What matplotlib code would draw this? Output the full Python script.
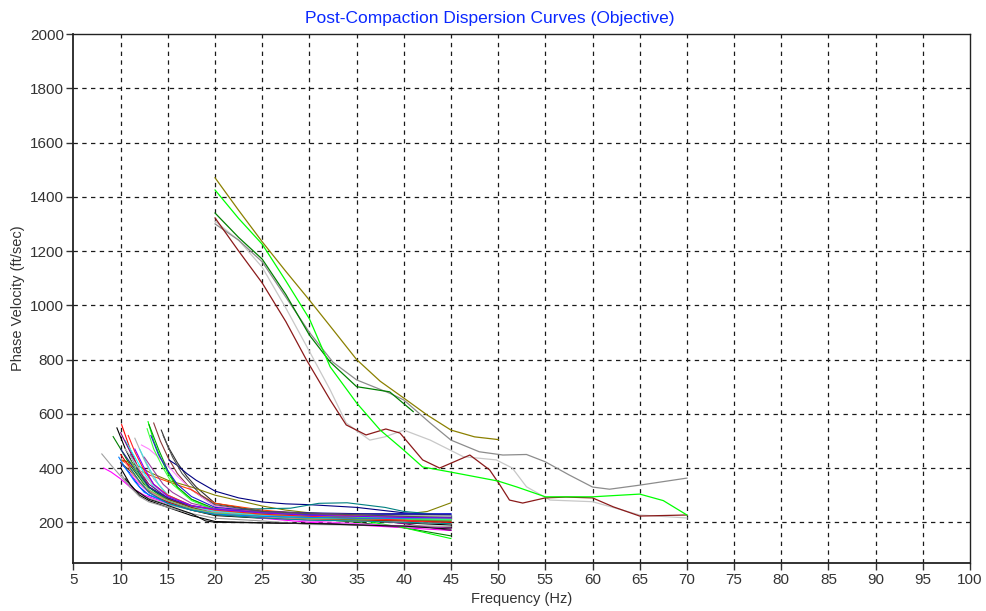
import matplotlib
matplotlib.use("Agg")
import matplotlib.pyplot as plt

# ---------------- data ----------------
title_text = "Post-Compaction Dispersion Curves (Objective)"
x_label = "Frequency (Hz)"
y_label = "Phase Velocity (ft/sec)"
x_ticks = list(range(5, 101, 5))
y_ticks = list(range(200, 2001, 200))

# high-velocity curves (start at 20 Hz)
hi_olive_f = [20, 22.5, 25, 27.5, 30, 32.5, 35, 37.5, 40, 42.5, 45, 47.5, 50]
hi_olive_v = [1470, 1350, 1234, 1125, 1019, 910, 800, 720, 658, 595, 540, 515, 505]
hi_lime_f = [20, 22.5, 25, 27.5, 30, 32.2, 35, 37.5, 40, 42, 45, 50, 52, 55, 60, 65, 67.5, 70]
hi_lime_v = [1425, 1320, 1225, 1090, 950, 773, 640, 540, 466, 404, 385, 352, 330, 294, 294, 304, 280, 227]
hi_green_f = [20, 22.5, 25, 27.5, 30, 32.2, 35, 38.5, 41]
hi_green_v = [1340, 1250, 1170, 1040, 890, 791, 700, 681, 608]
hi_gray_f = [20, 22.5, 25, 27.5, 30, 32.5, 35, 38.5, 40, 42.8, 45, 48, 50.5, 53, 55, 57.5, 60, 61.8, 65, 70]
hi_gray_v = [1300, 1240, 1160, 1030, 900, 790, 725, 676, 651, 566, 503, 460, 448, 450, 423, 375, 330, 322, 337, 363]
hi_silver_f = [20, 22.5, 25, 27.5, 30, 32.2, 33.9, 36.4, 38, 40, 42.8, 46.3, 49.8, 51.5, 53, 55.5, 60, 65, 70]
hi_silver_v = [1310, 1240, 1140, 990, 830, 688, 566, 503, 515, 540, 503, 442, 430, 400, 331, 282, 276, 227, 216]
hi_maroon_f = [20, 22.5, 25, 27.5, 29.7, 32.2, 33.9, 36, 38.1, 39.6, 42, 43.8, 47, 49.1, 50.2, 51.2, 52.6, 55, 57.2, 60, 62.2, 65, 70]
hi_maroon_v = [1322, 1200, 1082, 940, 798, 651, 559, 522, 544, 529, 430, 400, 448, 393, 337, 282, 271, 290, 293, 290, 257, 223, 227]

hi_curves = [
    (hi_silver_f, hi_silver_v, "#C8C8C8"),
    (hi_gray_f, hi_gray_v, "#8C8C8C"),
    (hi_green_f, hi_green_v, "#008000"),
    (hi_maroon_f, hi_maroon_v, "#8B1A1A"),
    (hi_lime_f, hi_lime_v, "#00FF00"),
    (hi_olive_f, hi_olive_v, "#8B8000"),
]

# low-frequency cluster (each: freqs, velocities, colour)
lo_01 = ([10.1, 11, 12, 13, 15, 17.5, 20, 25, 30, 35, 40, 45], [560, 470, 390, 330, 280, 250, 230, 220, 215, 212, 205, 200], "#FF0000")
lo_02 = ([9.6, 10.5, 11.5, 13, 15, 17.5, 20, 25, 30, 35, 40, 45], [548, 470, 400, 330, 285, 245, 225, 215, 210, 205, 198, 190], "#000000")
lo_03 = ([9.2, 10, 11, 12.5, 15, 17.5, 20, 25, 30, 35, 40, 45], [516, 470, 410, 340, 280, 250, 235, 225, 215, 200, 180, 150], "#008000")
lo_04 = ([8, 9, 10, 11, 12.5, 15, 17.5, 20, 25, 30, 35, 40, 45], [452, 410, 370, 330, 295, 265, 245, 230, 220, 215, 210, 205, 205], "#A0A0A0")
lo_05 = ([8.2, 9, 10, 11, 12.5, 15, 17.5, 20, 25, 30, 35, 40, 45], [400, 385, 360, 330, 300, 270, 250, 235, 215, 200, 190, 180, 170], "#FF00FF")
lo_06 = ([12.9, 13.5, 14.2, 15, 16, 17.5, 20, 25, 30, 35, 40, 45], [571, 500, 440, 380, 330, 285, 245, 230, 220, 210, 180, 140], "#00FF00")
lo_07 = ([13.5, 14.2, 15, 16, 17.5, 20, 25, 30, 35, 40, 45], [566, 500, 440, 380, 320, 260, 235, 228, 222, 218, 215], "#8B3A3A")
lo_08 = ([14.3, 15, 16, 17, 18, 20, 25, 30, 35, 40, 45], [540, 480, 420, 370, 330, 270, 240, 230, 225, 220, 215], "#303030")
lo_09 = ([12.2, 13, 14, 15, 16, 17.5, 20, 25, 30, 35, 40, 45], [485, 470, 440, 410, 370, 320, 260, 235, 225, 220, 215, 210], "#FF80FF")
lo_10 = ([15.1, 16, 17, 18, 20, 22.5, 25, 27.5, 30, 35, 40, 45], [430, 410, 380, 355, 315, 290, 275, 268, 265, 255, 235, 225], "#000080")
lo_11 = ([10.1, 11, 12, 13, 15, 17.5, 20, 22.5, 25, 27.5, 30, 35, 40, 42.5, 45], [430, 420, 405, 385, 355, 330, 300, 280, 260, 245, 235, 225, 230, 240, 272], "#808000")
lo_12 = ([10, 11, 12, 13, 15, 17.5, 20, 25, 30, 35, 40, 45], [430, 410, 390, 375, 350, 320, 270, 245, 230, 222, 215, 210], "#FF4000")
lo_13 = ([10, 11, 12, 13, 15, 17.5, 20, 25, 30, 35, 40, 45], [420, 380, 330, 300, 275, 250, 240, 232, 228, 230, 232, 230], "#0000FF")
lo_14 = ([10.5, 11.5, 12.5, 13.5, 15, 17.5, 20, 25, 30, 35, 40, 45], [500, 440, 380, 330, 285, 255, 240, 225, 218, 215, 212, 210], "#00FFFF")
lo_15 = ([11, 12, 13, 15, 17.5, 20, 25, 28, 31, 34, 38, 40, 45], [450, 380, 330, 285, 255, 245, 250, 252, 270, 272, 255, 240, 225], "#008080")
lo_16 = ([10, 11, 12, 13, 15, 17.5, 20, 25, 30, 35, 40, 45], [530, 460, 390, 340, 290, 255, 240, 228, 222, 215, 195, 170], "#800080")
lo_17 = ([10.5, 11.5, 12.5, 14, 15, 17.5, 20, 25, 30, 35, 40, 45], [470, 420, 370, 320, 295, 260, 240, 230, 225, 220, 220, 222], "#C0C0C0")
lo_18 = ([11.5, 12.5, 13.5, 15, 17.5, 20, 25, 30, 35, 40, 45], [510, 430, 360, 300, 260, 245, 238, 232, 228, 225, 225], "#B0B0B0")
lo_19 = ([13, 14, 15, 16, 17.5, 20, 25, 30, 35, 40, 45], [560, 470, 390, 330, 285, 250, 235, 225, 218, 210, 205], "#00A000")
lo_20 = ([13.2, 14, 15, 16, 17.5, 20, 25, 30, 35, 40, 45], [520, 450, 390, 340, 295, 255, 240, 232, 230, 230, 232], "#2020D0")
lo_22 = ([10, 11, 12, 13, 15, 17.5, 20, 25, 30, 35, 40, 45], [450, 400, 350, 310, 275, 245, 228, 218, 210, 208, 205, 200], "#E00000")
lo_23 = ([10, 11, 12, 13, 15, 17.5, 20, 25, 30, 35, 40, 45], [400, 340, 300, 280, 255, 225, 203, 198, 195, 192, 185, 180], "#000000")
lo_24 = ([10, 11, 12, 13, 15, 17.5, 20, 25, 30, 35, 40, 45], [380, 330, 295, 275, 255, 232, 215, 205, 192, 190, 188, 185], "#999999")
lo_25 = ([11, 12, 13, 15, 17.5, 20, 25, 30, 35, 40, 45], [380, 340, 310, 280, 255, 238, 222, 205, 195, 185, 178], "#FF40FF")
lo_26 = ([10, 11, 12, 13, 15, 17.5, 20, 25, 30, 35, 40, 45], [420, 390, 350, 315, 285, 255, 232, 222, 215, 210, 208, 205], "#804000")
lo_27 = ([12, 13, 14, 15, 17.5, 20, 25, 30, 35, 40, 45], [470, 400, 340, 300, 260, 240, 225, 218, 215, 215, 215], "#40E0E0")
lo_28 = ([10, 11, 12, 13, 15, 17.5, 20, 25, 30, 35, 40, 45], [470, 420, 370, 330, 290, 260, 248, 240, 235, 232, 230, 228], "#202090")
lo_29 = ([10.5, 11.5, 12.5, 14, 15, 17.5, 20, 25, 30, 35, 40, 45], [420, 370, 330, 295, 280, 250, 232, 220, 210, 205, 200, 195], "#FF8080")
lo_30 = ([11, 12, 13, 15, 17.5, 20, 25, 30, 35, 40, 45], [430, 370, 320, 280, 250, 235, 222, 215, 212, 210, 208], "#60D060")
lo_31 = ([12.5, 13.5, 14.5, 15.5, 17.5, 20, 25, 30, 35, 40, 45], [440, 390, 340, 310, 270, 250, 240, 232, 228, 220, 215], "#A040A0")
lo_32 = ([12.8, 13.5, 14.5, 15.5, 17.5, 20, 25, 30, 35, 40, 45], [545, 470, 400, 340, 280, 245, 230, 222, 218, 215, 212], "#40FF40")
lo_33 = ([10.8, 11.5, 12.5, 13.5, 15, 17.5, 20, 25, 30, 35, 40, 45], [520, 460, 390, 340, 300, 262, 245, 230, 222, 215, 208, 195], "#FF2020")
lo_34 = ([9.8, 10.5, 11.5, 12.5, 15, 17.5, 20, 25, 30, 35, 40, 45], [440, 400, 350, 310, 270, 245, 230, 222, 218, 215, 215, 218], "#0080FF")
lo_35 = ([11, 12, 13, 15, 17.5, 20, 25, 30, 35, 40, 45], [400, 350, 310, 270, 245, 228, 216, 208, 205, 200, 195], "#009090")
lo_36 = ([14.5, 15.5, 16.5, 17.5, 18.5, 20, 25, 30, 35, 40, 45], [520, 440, 380, 340, 300, 265, 240, 232, 228, 222, 218], "#505050")
lo_37 = ([11.5, 12.5, 13.5, 15, 17.5, 20, 25, 30, 35, 40, 45], [470, 400, 340, 295, 262, 248, 235, 226, 222, 218, 216], "#8000FF")
lo_38 = ([10.5, 11.5, 13, 15, 17.5, 19, 20, 25, 30, 35, 40, 45], [360, 320, 285, 262, 232, 205, 200, 198, 196, 190, 186, 175], "#101010")

lo_curves = [lo_01, lo_02, lo_03, lo_04, lo_05, lo_06, lo_07, lo_08, lo_09, lo_10,
             lo_11, lo_12, lo_13, lo_14, lo_15, lo_16, lo_17, lo_18, lo_19, lo_20,
             lo_22, lo_23, lo_24, lo_25, lo_26, lo_27, lo_28, lo_29, lo_30, lo_31,
             lo_32, lo_33, lo_34, lo_35, lo_36, lo_37, lo_38]

# ---------------- figure ----------------
plt.rcParams['font.family'] = ['Liberation Sans', 'DejaVu Sans']
fig = plt.figure(figsize=(9.87, 6.11), dpi=100)
ax = fig.add_axes([73.5 / 987, 1 - 563 / 611, (970 - 73.5) / 987, (563 - 34) / 611])

for f, v, c in lo_curves:
    ax.plot(f, v, color=c, lw=0.8, solid_joinstyle='round')
for f, v, c in hi_curves:
    ax.plot(f, v, color=c, lw=0.9, solid_joinstyle='round')

ax.set_xlim(5, 100)
ax.set_ylim(50, 2000)
ax.set_xticks(x_ticks)
ax.set_yticks(y_ticks)
ax.tick_params(direction='out', length=5, width=1, colors='#333333', labelsize=11, pad=2)

for xv in x_ticks[1:-1]:
    ax.axvline(xv, color='#1a1a1a', lw=0.9, ls=(0, (3.5, 3.5)), zorder=0.5)
for yv in y_ticks[:-1]:
    ax.axhline(yv, color='#1a1a1a', lw=0.9, ls=(0, (3.5, 3.5)), zorder=0.5)

for s in ax.spines.values():
    s.set_color('#222222')
    s.set_linewidth(1.0)
ax.spines['left'].set_linewidth(1.3)
ax.spines['bottom'].set_linewidth(1.3)

fig.text(490 / 987, 1 - 18 / 611, title_text, color='#0a28ff', fontsize=12.5,
         ha='center', va='center')
fig.text(522 / 987, 1 - 599 / 611, x_label, color='#333333', fontsize=10.5,
         ha='center', va='center')
fig.text(18 / 987, 1 - 298 / 611, y_label, color='#333333', fontsize=10.5,
         ha='center', va='center', rotation=90)

fig.savefig("out.png", dpi=100)
